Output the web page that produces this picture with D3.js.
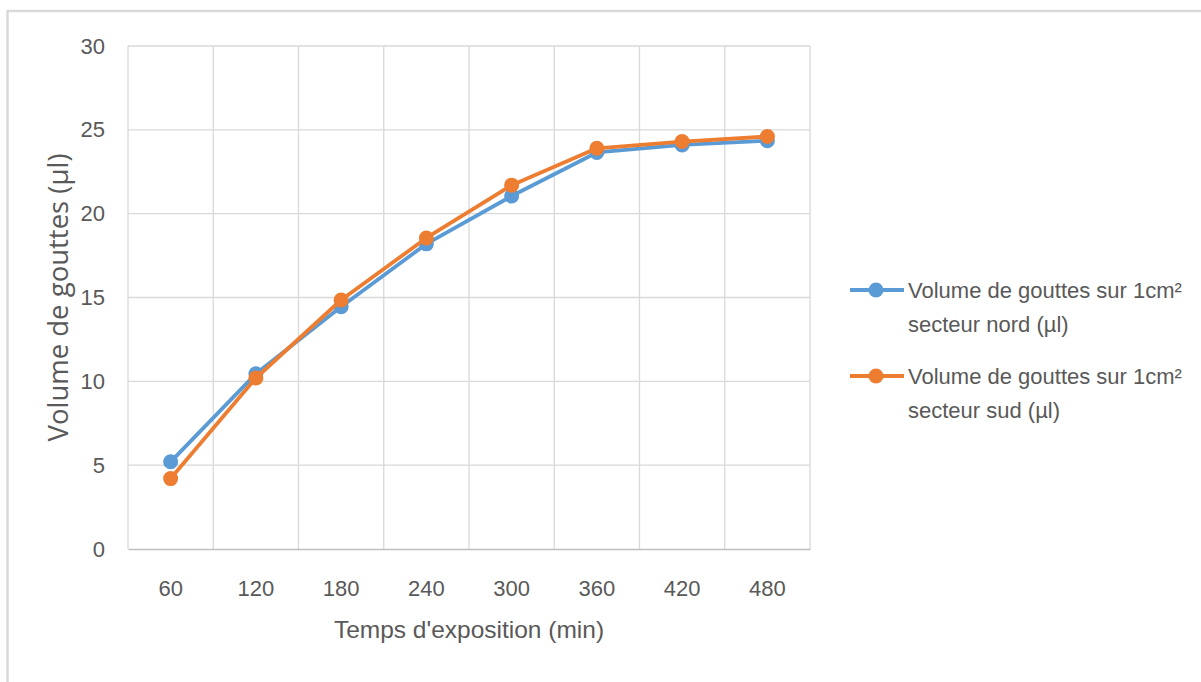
<!DOCTYPE html>
<html>
<head>
<meta charset="utf-8">
<script src="https://cdn.jsdelivr.net/npm/d3@7"></script>
<style>
  html, body { margin: 0; padding: 0; background: #ffffff; }
  svg { display: block; }
</style>
</head>
<body>
<svg id="chart" width="1201" height="682"></svg>
<script>
// Exposure time categories (minutes)
const times = ["60", "120", "180", "240", "300", "360", "420", "480"];
// Droplet volume per 1 cm² (µl)
const northValues = [5.2, 10.45, 14.45, 18.2, 21.05, 23.65, 24.1, 24.35];
const southValues = [4.2, 10.2, 14.85, 18.55, 21.7, 23.9, 24.3, 24.6];
const yTicks = [0, 5, 10, 15, 20, 25, 30];
const seriesNames = [
  ["Volume de gouttes sur 1cm²", "secteur nord (µl)"],
  ["Volume de gouttes sur 1cm²", "secteur sud (µl)"]
];
const seriesColors = ["#5b9bd5", "#ed7d31"];

const svg = d3.select("#chart");
const textFont = "'Liberation Sans', Arial, sans-serif";
const textColor = "#595959";

// Outer frame (top and left edges visible)
svg.append("line").attr("x1", 7).attr("x2", 1201).attr("y1", 11).attr("y2", 11)
  .attr("stroke", "#d9d9d9").attr("stroke-width", 2.5);
svg.append("line").attr("x1", 7.5).attr("x2", 7.5).attr("y1", 10).attr("y2", 682)
  .attr("stroke", "#d9d9d9").attr("stroke-width", 2.5);

const plot = { left: 128, right: 810, top: 46, bottom: 549 };

const x = d3.scaleBand().domain(times).range([plot.left, plot.right]).padding(0);
const y = d3.scaleLinear().domain([0, 30]).range([plot.bottom, plot.top]);

// Horizontal gridlines
svg.append("g")
  .selectAll("line")
  .data(yTicks.filter(d => d > 0))
  .join("line")
  .attr("x1", plot.left).attr("x2", plot.right)
  .attr("y1", d => y(d)).attr("y2", d => y(d))
  .attr("stroke", "#d9d9d9").attr("stroke-width", 1.3);

// Vertical gridlines at category boundaries
const boundaries = times.map(t => x(t)).concat([plot.right]);
svg.append("g")
  .selectAll("line")
  .data(boundaries)
  .join("line")
  .attr("x1", d => d).attr("x2", d => d)
  .attr("y1", plot.top).attr("y2", plot.bottom)
  .attr("stroke", "#d9d9d9").attr("stroke-width", 1.3);

// X axis baseline and labels
const xAxis = d3.axisBottom(x).tickSize(0).tickPadding(31);
const gx = svg.append("g").attr("transform", `translate(0,${plot.bottom})`).call(xAxis);
gx.select(".domain").attr("stroke", "#bfbfbf").attr("stroke-width", 1.5);
gx.selectAll("text").attr("font-family", textFont).attr("font-size", 22)
  .attr("fill", textColor).attr("dy", "0.71em");

// Y axis labels
const yAxis = d3.axisLeft(y).tickValues(yTicks).tickSize(0).tickPadding(23);
const gy = svg.append("g").attr("transform", `translate(${plot.left},0)`).call(yAxis);
gy.select(".domain").remove();
gy.selectAll("text").attr("font-family", textFont).attr("font-size", 22)
  .attr("fill", textColor);

// Axis titles
svg.append("text")
  .attr("x", (plot.left + plot.right) / 2).attr("y", 638)
  .attr("text-anchor", "middle")
  .attr("font-family", textFont).attr("font-size", 24.5).attr("fill", textColor)
  .text("Temps d'exposition (min)");

svg.append("text")
  .attr("transform", `translate(68,${(plot.top + plot.bottom) / 2}) rotate(-90)`)
  .attr("text-anchor", "middle")
  .attr("font-family", "'Open Sans', 'DejaVu Sans', sans-serif").attr("font-size", 27.5)
  .attr("fill", textColor)
  .text("Volume de gouttes (µl)");

// Series lines and markers
const series = [northValues, southValues];
const line = d3.line()
  .x((d, i) => x(times[i]) + x.bandwidth() / 2)
  .y(d => y(d));

series.forEach((vals, si) => {
  const g = svg.append("g");
  g.append("path")
    .datum(vals)
    .attr("d", line)
    .attr("fill", "none")
    .attr("stroke", seriesColors[si])
    .attr("stroke-width", 3.8)
    .attr("stroke-linejoin", "round");
  g.selectAll("circle")
    .data(vals)
    .join("circle")
    .attr("cx", (d, i) => x(times[i]) + x.bandwidth() / 2)
    .attr("cy", d => y(d))
    .attr("r", 7.5)
    .attr("fill", seriesColors[si]);
});

// Legend
const legend = svg.append("g");
const legendY = [290, 376];
seriesNames.forEach((lines, i) => {
  const g = legend.append("g").attr("transform", `translate(0,${legendY[i]})`);
  g.append("line").attr("x1", 850).attr("x2", 904).attr("y1", 0).attr("y2", 0)
    .attr("stroke", seriesColors[i]).attr("stroke-width", 3.8);
  g.append("circle").attr("cx", 876).attr("cy", 0).attr("r", 7.5).attr("fill", seriesColors[i]);
  const t = g.append("text")
    .attr("font-family", textFont).attr("font-size", 22).attr("fill", textColor);
  lines.forEach((s, k) => {
    t.append("tspan").attr("x", 908).attr("y", 8 + k * 34).text(s);
  });
});
</script>
</body>
</html>
